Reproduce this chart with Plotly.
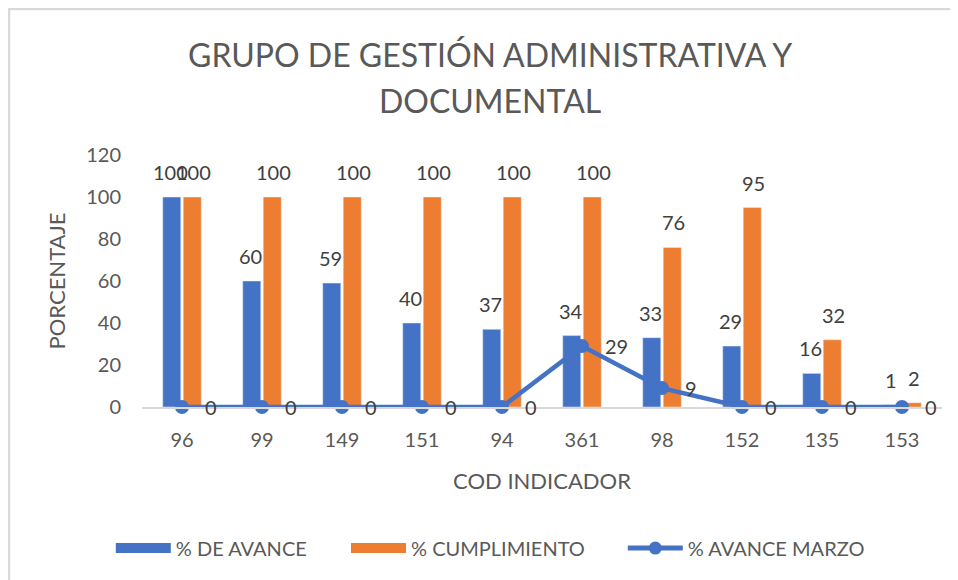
import plotly.graph_objects as go

categories = ["96", "99", "149", "151", "94", "361", "98", "152", "135", "153"]
avance = [100, 60, 59, 40, 37, 34, 33, 29, 16, 1]
cumplimiento = [100, 100, 100, 100, 100, 100, 76, 95, 32, 2]
avance_marzo = [0, 0, 0, 0, 0, 29, 9, 0, 0, 0]
y_ticks = [0, 20, 40, 60, 80, 100, 120]

BLUE = "#4472C4"
ORANGE = "#ED7D31"
GREY = "#595959"
LABEL = "#404040"
FONT = "Lato"

fig = go.Figure()
fig.add_trace(go.Bar(name="% DE AVANCE", x=categories, y=avance, marker_color=BLUE, showlegend=False))
fig.add_trace(go.Bar(name="% CUMPLIMIENTO", x=categories, y=cumplimiento, marker_color=ORANGE, showlegend=False))
fig.add_trace(go.Scatter(name="% AVANCE MARZO", x=categories, y=avance_marzo, mode="lines+markers",
                         line=dict(color=BLUE, width=4.5), marker=dict(color=BLUE, size=14),
                         cliponaxis=False, showlegend=False))
# legend entries (wide swatches like the original), one legend each so they can be spaced freely
fig.add_trace(go.Scatter(name="% DE AVANCE", x=[None], y=[None], mode="lines",
                         line=dict(color=BLUE, width=11), legend="legend"))
fig.add_trace(go.Scatter(name="% CUMPLIMIENTO", x=[None], y=[None], mode="lines",
                         line=dict(color=ORANGE, width=11), legend="legend2"))
fig.add_trace(go.Scatter(name="% AVANCE MARZO", x=[None], y=[None], mode="lines+markers",
                         line=dict(color=BLUE, width=5), marker=dict(color=BLUE, size=13),
                         legend="legend3"))

ann = []
lab_font = dict(size=20, color=LABEL, family=FONT)
for i, v in enumerate(avance):
    ann.append(dict(x=i, y=v, xref="x", yref="y", text=str(v), showarrow=False,
                    xshift=-11.5, yshift=25, font=lab_font))
for i, v in enumerate(cumplimiento):
    ann.append(dict(x=i, y=v, xref="x", yref="y", text=str(v), showarrow=False,
                    xshift=11.5, yshift=25, font=lab_font))
for i, v in enumerate(avance_marzo):
    ann.append(dict(x=i, y=v, xref="x", yref="y", text=str(v), showarrow=False,
                    xanchor="left", xshift=21, font=lab_font))

ann.append(dict(x=0.435, y=1.397, xref="paper", yref="paper", showarrow=False, yanchor="middle",
                text="GRUPO DE GESTIÓN ADMINISTRATIVA Y", font=dict(size=32, color=GREY, family=FONT)))
ann.append(dict(x=0.435, y=1.218, xref="paper", yref="paper", showarrow=False, yanchor="middle",
                text="DOCUMENTAL", font=dict(size=32, color=GREY, family=FONT)))

leg_common = dict(orientation="h", xanchor="left", y=-0.56, yanchor="middle",
                  font=dict(size=20, color=GREY, family=FONT), itemwidth=55,
                  bgcolor="rgba(0,0,0,0)")

fig.update_layout(
    width=958, height=580,
    margin=dict(l=134, r=24, t=147, b=181),
    paper_bgcolor="white", plot_bgcolor="white",
    font=dict(family=FONT, color=GREY, size=20),
    barmode="group", bargap=0.4875, bargroupgap=0.12,
    annotations=ann,
    showlegend=True,
    legend=dict(x=-0.039, **leg_common),
    legend2=dict(x=0.255, **leg_common),
    legend3=dict(x=0.601, **leg_common),
    shapes=[dict(type="rect", xref="paper", yref="paper", x0=-0.16625, x1=1.04, y0=-0.73, y1=1.579,
                 line=dict(color="#D9D9D9", width=2.5), layer="below")],
    xaxis=dict(type="category", range=[-0.5, 9.5], showgrid=False, showline=True, linecolor="#D9D9D9",
               linewidth=1.5, ticks="", tickfont=dict(size=20, color=GREY), ticklabelstandoff=14,
               title=dict(text="COD INDICADOR", font=dict(size=22, color=GREY), standoff=24)),
    yaxis=dict(range=[0, 120], tickvals=y_ticks, showgrid=False, zeroline=False, showline=False,
               ticks="", tickfont=dict(size=20, color=GREY), ticklabelstandoff=20,
               title=dict(text="PORCENTAJE", font=dict(size=22, color=GREY), standoff=14)),
)

fig.write_html("out.html")
